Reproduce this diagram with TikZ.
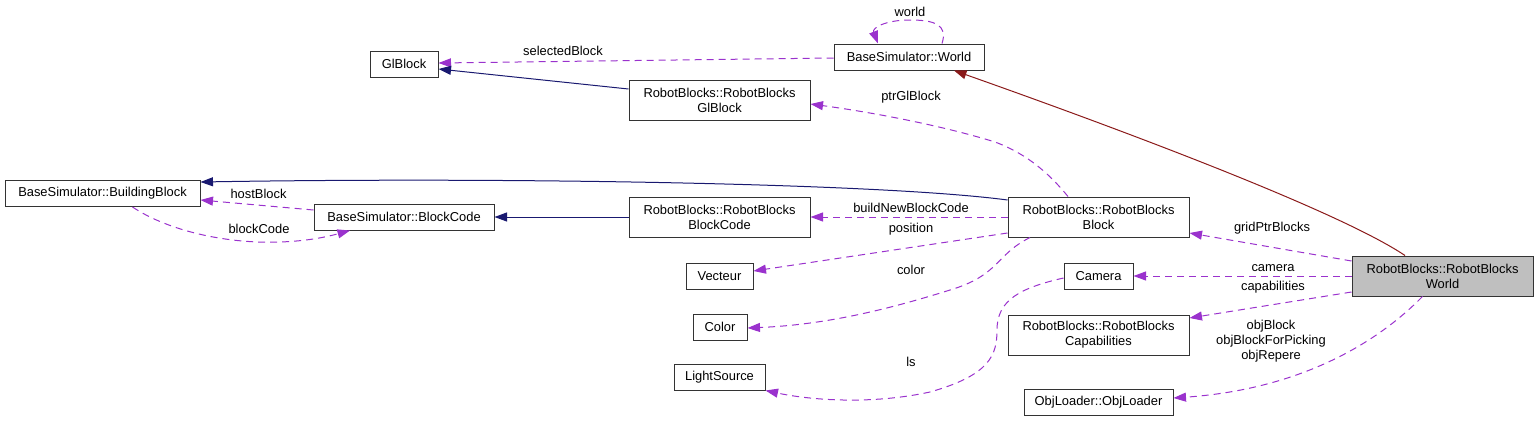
\documentclass[tikz,border=0pt]{standalone}
\usepackage{fontspec}
\setmainfont{Liberation Sans}
\usetikzlibrary{arrows.meta}
\definecolor{edgepurple}{HTML}{9A32CD}
\definecolor{edgenavy}{HTML}{191970}
\definecolor{edgered}{HTML}{8B1A1A}
\definecolor{nodegrey}{HTML}{BFBFBF}
\definecolor{nodeborder}{HTML}{333333}
\begin{document}
\begin{tikzpicture}[x=1pt,y=-1pt,
  txt/.style={font=\fontsize{12.9}{15}\selectfont},
  box/.style={txt,draw=nodeborder,line width=1pt,inner sep=0pt,align=center,fill=white},
  lbl/.style={txt,inner sep=0pt,align=center},
  tip/.style={-{Triangle[length=12.5pt,width=9pt]}},
  uses/.style={tip,draw=edgepurple,line width=1pt,dash pattern=on 7pt off 5pt},
  inherit/.style={tip,draw=edgenavy,line width=1pt},
  redge/.style={tip,draw=edgered,line width=1pt}]
\useasboundingbox (0,0) rectangle (1539,421);
% nodes
\node[box,minimum width=68pt,minimum height=26pt] (glb) at (404,64) {GlBlock};
\node[box,minimum width=150pt,minimum height=26pt] (bsw) at (909,57) {BaseSimulator::World};
\node[box,minimum width=181pt,minimum height=40pt] (rbgl) at (719.5,100) {RobotBlocks::RobotBlocks\\GlBlock};
\node[box,minimum width=195pt,minimum height=26pt] (bb) at (102.5,193.5) {BaseSimulator::BuildingBlock};
\node[box,minimum width=180pt,minimum height=26pt] (bc) at (404,217) {BaseSimulator::BlockCode};
\node[box,minimum width=181pt,minimum height=40pt] (rbbc) at (719.5,217) {RobotBlocks::RobotBlocks\\BlockCode};
\node[box,minimum width=181pt,minimum height=40pt] (rbb) at (1098.5,217) {RobotBlocks::RobotBlocks\\Block};
\node[box,minimum width=67pt,minimum height=26pt] (vec) at (719.5,276) {Vecteur};
\node[box,minimum width=54pt,minimum height=26pt] (col) at (720,327) {Color};
\node[box,minimum width=91pt,minimum height=26pt] (ls) at (719.5,377) {LightSource};
\node[box,minimum width=69pt,minimum height=26pt] (cam) at (1098.5,276) {Camera};
\node[box,minimum width=181pt,minimum height=40pt] (cap) at (1098.5,335) {RobotBlocks::RobotBlocks\\Capabilities};
\node[box,minimum width=149pt,minimum height=26pt] (obj) at (1098.5,402) {ObjLoader::ObjLoader};
\node[box,fill=nodegrey,minimum width=181pt,minimum height=40pt] (rbw) at (1442.5,276) {RobotBlocks::RobotBlocks\\World};
% edges
\draw[uses] ([xshift=33pt]bsw.north) .. controls (948,25) and (935,20) .. (910,20) .. controls (885,20) and (872,28) .. ([xshift=-31pt]bsw.north);
\draw[uses] ([yshift=-1pt]bsw.west) -- ([yshift=1pt]glb.east);
\draw[inherit] ([yshift=11pt]rbgl.west) -- ([yshift=-5pt]glb.east);
\draw[redge] ([xshift=-37.5pt]rbw.north) .. controls (1330,205) and (1060,108) .. ([xshift=45pt]bsw.south);
\draw[uses] ([xshift=-30.5pt]rbb.north) .. controls (1052,177) and (1030,155) .. (995,142) .. controls (940,125) and (870,112) .. ([yshift=-4pt]rbgl.east);
\draw[inherit] ([yshift=17pt]rbb.west) .. controls (880,183) and (500,177) .. ([yshift=11.5pt]bb.east);
\draw[uses] ([yshift=7pt]bc.west) -- ([yshift=-6.5pt]bb.east);
\draw[uses] ([xshift=30pt]bb.south) .. controls (170,232) and (230,244) .. (280,242) .. controls (310,241) and (330,236) .. ([xshift=-54pt]bc.south);
\draw[inherit] (rbbc.west) -- (bc.east);
\draw[uses] (rbb.west) -- (rbbc.east);
\draw[uses] ([yshift=-16pt]rbb.west) -- ([yshift=5pt]vec.east);
\draw[uses] ([xshift=-68.5pt]rbb.south) .. controls (995,255) and (1000,275) .. (950,290) .. controls (880,312) and (820,325) .. ([yshift=-1pt]col.east);
\draw[uses] ([yshift=-2pt]cam.west) .. controls (1020,288) and (997,300) .. (997,330) .. controls (997,355) and (990,375) .. (930,392) .. controls (870,405) and (810,400) .. (ls.south east);
\draw[uses] ([yshift=15pt]rbw.west) -- ([yshift=-16pt]rbb.east);
\draw[uses] (rbw.west) -- (cam.east);
\draw[uses] ([yshift=-16pt]rbw.west) -- ([yshift=17pt]cap.east);
\draw[uses] ([xshift=-20pt]rbw.south) .. controls (1370,350) and (1290,390) .. ([yshift=4pt]obj.east);
% labels
\node[lbl] (l1) at (910,12) {world};
\node[lbl] (l2) at (563,51) {selectedBlock};
\node[lbl] (l3) at (911,97) {ptrGlBlock};
\node[lbl] (l4) at (258.5,194) {hostBlock};
\node[lbl] (l5) at (259,229) {blockCode};
\node[lbl] (l6) at (911,208) {buildNewBlockCode};
\node[lbl] (l7) at (911,229) {position};
\node[lbl] (l8) at (911,270) {color};
\node[lbl] (l9) at (911,362) {ls};
\node[lbl] (l10) at (1272,228) {gridPtrBlocks};
\node[lbl] (l11) at (1273,268) {camera};
\node[lbl] (l12) at (1273,287) {capabilities};
\node[lbl] (l13) at (1271,341) {objBlock\\objBlockForPicking\\objRepere};
\end{tikzpicture}
\end{document}
